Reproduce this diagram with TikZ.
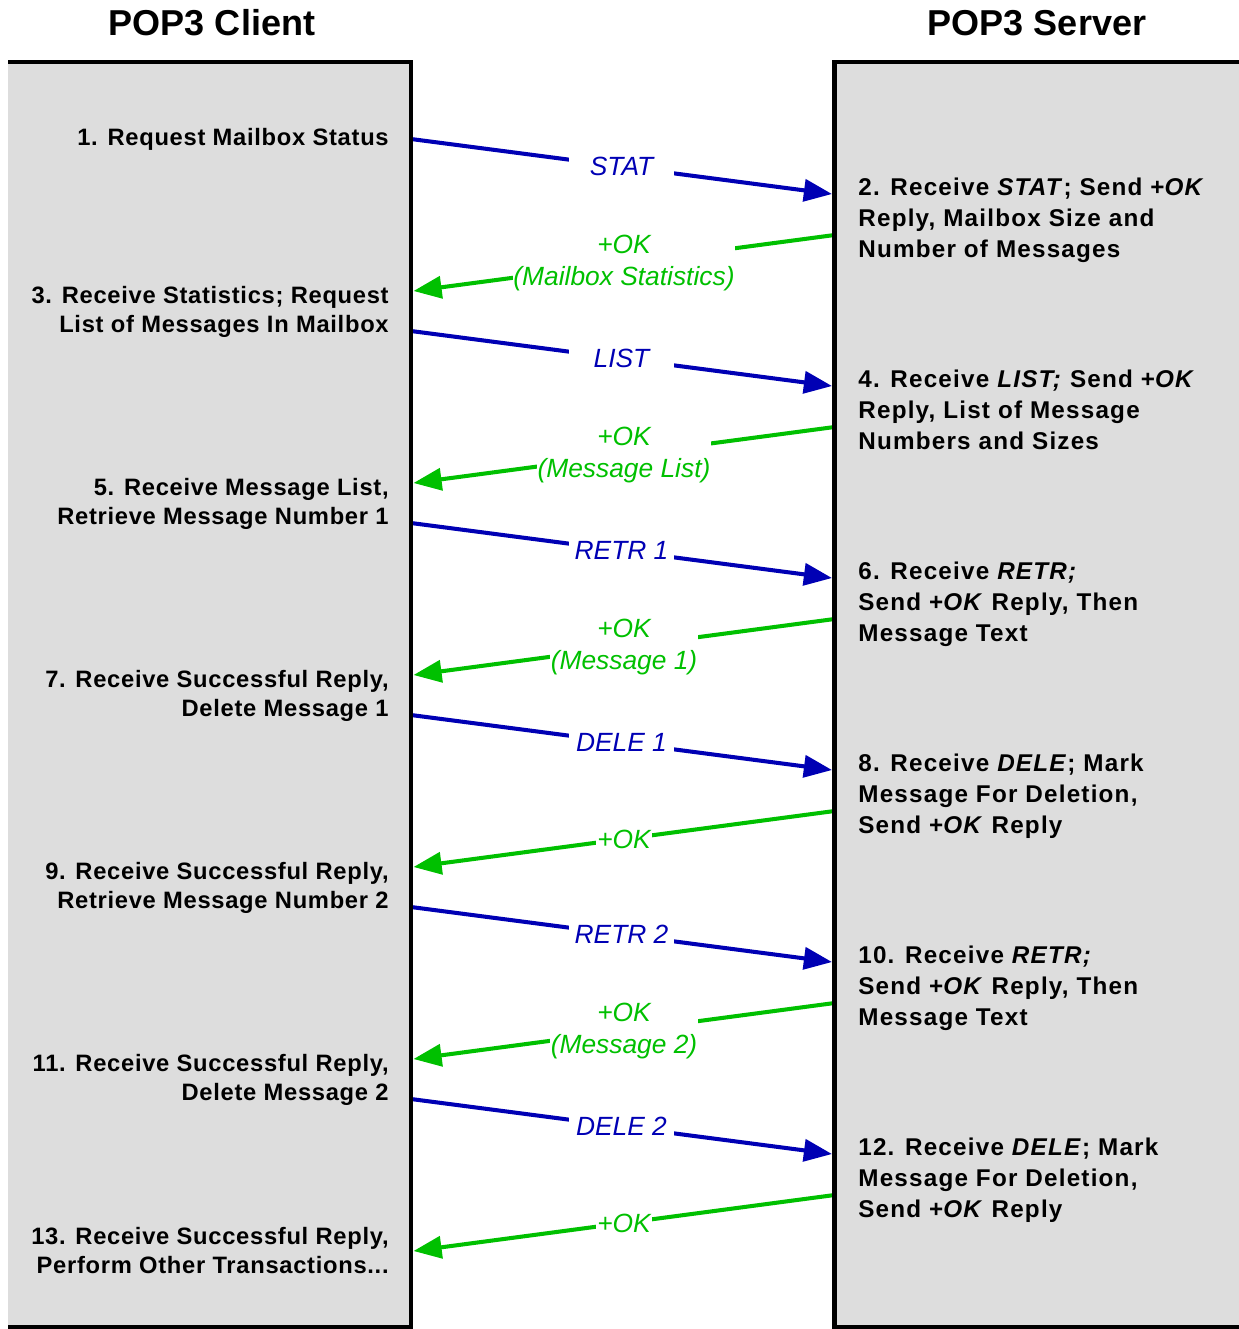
\documentclass[tikz,border=0pt]{standalone}
\usepackage{fontspec}
\setmainfont{Liberation Sans}
\newfontfamily\stepfont[LetterSpace=3]{Liberation Sans}
\newfontfamily\replyfont[LetterSpace=5]{Liberation Sans}
\usepackage{tikz}
\usetikzlibrary{arrows.meta, calc, positioning}
\usepackage{xcolor}
\definecolor{pBlue}{HTML}{0000B4}
\definecolor{pGreen}{HTML}{00C000}
\definecolor{pGrey}{HTML}{DDDDDD}

\begin{document}
\begin{tikzpicture}[x=0.02cm, y=-0.02cm, >={Triangle[length=16pt, width=12.5pt]},
    side/.style={line width=2.8pt},
    title/.style={font=\fontsize{20.5}{24}\selectfont\bfseries},
    clientstep/.style={anchor=north east, align=right, inner sep=0pt,
                       font=\stepfont\fontsize{13.5}{17}\selectfont\bfseries},
    serverstep/.style={anchor=north west, align=left, inner sep=0pt,
                       font=\replyfont\fontsize{13.8}{17.6}\selectfont\bfseries},
    req/.style={->, pBlue, line width=2.3pt},
    rsp/.style={->, pGreen, line width=2.3pt},
    reqlab/.style={fill=white, text=pBlue, minimum width=2.1cm, inner sep=1pt,
                   font=\fontsize{15}{17.6}\selectfont\itshape},
    rsplab/.style={fill=white, text=pGreen, align=center, inner xsep=0.5pt, inner ysep=1pt,
                   font=\fontsize{15}{18}\selectfont\itshape}]
  \useasboundingbox (0,0) rectangle (1239,1329);
  \clip (0,0) rectangle (1239,1329);

  % client and server sides
  \fill[pGrey] (8,62) rectangle (411,1327);
  \fill[pGrey] (834.5,62) rectangle (1250,1327);

  % commands (blue) and replies (green)
  \foreach \k/\lab in {0/STAT, 1/LIST, 2/RETR 1, 3/DELE 1, 4/RETR 2, 5/DELE 2} {
    \coordinate (q\k) at (411,{139+192*\k});
    \coordinate (r\k) at (832,{194+192*\k});
    \draw[req] (q\k) -- node[reqlab] {\lab} (r\k);
  }
  \foreach \k/\lab in {0/{+OK\\(Mailbox Statistics)}, 1/{+OK\\(Message List)},
                       2/{+OK\\(Message 1)}, 3/{+OK}, 4/{+OK\\(Message 2)}, 5/{+OK}} {
    \coordinate (a\k) at (834.5,{235+192*\k});
    \coordinate (b\k) at (413.5,{291+192*\k});
    \draw[rsp] (a\k) -- node[rsplab] {\lab} (b\k);
  }

  \draw[side] (8,62) -- (411,62) -- (411,1327) -- (8,1327);
  \draw[side] (1250,62) -- (834.5,62) -- (834.5,1327) -- (1250,1327);

  \node[title] (client) at (212,23) {POP3 Client};
  \node[title] (server) at (1037,23) {POP3 Server};

  % client steps
  \node[clientstep] (c1) at (389,127.5) {1. Request Mailbox Status};
  \node[clientstep] (c3) at (389,285.5) {3. Receive Statistics; Request\\List of Messages In Mailbox};
  \node[clientstep] (c5) at (389,477.5) {5. Receive Message List,\\Retrieve Message Number 1};
  \node[clientstep] (c7) at (389,669.5) {7. Receive Successful Reply,\\Delete Message 1};
  \node[clientstep] (c9) at (389,861.5) {9. Receive Successful Reply,\\Retrieve Message Number 2};
  \node[clientstep] (c11) at (389,1053.5) {11. Receive Successful Reply,\\Delete Message 2};
  \node[clientstep] (c13) at (389,1226.5) {13. Receive Successful Reply,\\Perform Other Transactions...};

  % server steps
  \node[serverstep] (s2) at (858,177.5) {2. Receive \textit{STAT}; Send +\textit{OK}\\Reply, Mailbox Size and\\Number of Messages};
  \node[serverstep] (s4) at (858,369.5) {4. Receive \textit{LIST;} Send +\textit{OK}\\Reply, List of Message\\Numbers and Sizes};
  \node[serverstep] (s6) at (858,561.5) {6. Receive \textit{RETR;}\\Send +\textit{OK} Reply, Then\\Message Text};
  \node[serverstep] (s8) at (858,753.5) {8. Receive \textit{DELE}; Mark\\Message For Deletion,\\Send +\textit{OK} Reply};
  \node[serverstep] (s10) at (858,945.5) {10. Receive \textit{RETR;}\\Send +\textit{OK} Reply, Then\\Message Text};
  \node[serverstep] (s12) at (858,1137.5) {12. Receive \textit{DELE}; Mark\\Message For Deletion,\\Send +\textit{OK} Reply};
\end{tikzpicture}
\end{document}
